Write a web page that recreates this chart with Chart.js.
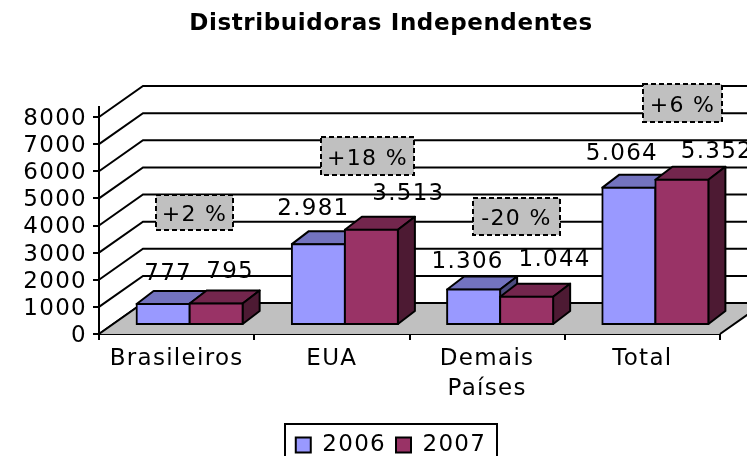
<!DOCTYPE html>
<html><head><meta charset="utf-8">
<style>html,body{margin:0;padding:0;background:#fff}canvas{display:block}</style>
<script src="https://cdn.jsdelivr.net/npm/chart.js@4"></script>
</head><body><canvas id="c" width="747" height="456"></canvas>
<script>
const categories = ['Brasileiros', 'EUA', ['Demais', 'Países'], 'Total'];
const values2006 = [777, 2981, 1306, 5064];
const values2007 = [795, 3513, 1044, 5352];
const changeLabels = ['+2 %', '+18 %', '-20 %', '+6 %'];
const yTicks = { min: 0, max: 8000, step: 1000 };

const FONT = 'DejaVu Sans, Verdana, sans-serif';
const LINE = 2;
const SPACING = '1.3px';
const BACK = { x: 44, y: -31 };
const BAR_SHIFT = { x: 13, y: -9 };
const BAR_DEPTH = { x: 17, y: -13 };
const LABEL_OFFSETS = [
  [[5, -30], [14, -31]],
  [[-5, -35], [37, -36]],
  [[-6, -28], [28, -37]],
  [[-7, -34], [35, -28]]
];
const NOTE_BOXES = [
  [156, 195, 77, 35],
  [321, 137, 93, 38],
  [473, 198, 87, 37],
  [643, 84, 79, 38]
];
const fmt = v => String(v).replace(/\B(?=(\d{3})+$)/g, '.');

function shade(hex, k) {
  const n = parseInt(hex.slice(1), 16);
  return 'rgb(' + [n >> 16 & 255, n >> 8 & 255, n & 255].map(c => Math.round(c * k)).join(',') + ')';
}

const canvas = document.getElementById('c');

const threeD = {
  id: 'threeD',
  beforeLayout(chart) { chart.ctx.letterSpacing = SPACING; },
  beforeDraw(chart) { chart.ctx.letterSpacing = SPACING; },
  afterLayout(chart) {
    const t = chart.titleBlock; t.left += 31; t.right += 31;
    const drawTitle = t.draw;
    t.draw = function () {
      chart.ctx.letterSpacing = '0.6px';
      drawTitle.apply(this, arguments);
      chart.ctx.letterSpacing = SPACING;
    };
    const L = chart.legend;
    L.left = 41; L.right = 741; L.top = 423.5; L.bottom = 456;
  },
  beforeDatasetsDraw(chart) {
    const { ctx, scales: { y }, chartArea: a } = chart;
    ctx.save();
    ctx.strokeStyle = '#000'; ctx.lineWidth = LINE;
    y.ticks.forEach(t => {
      const py = y.getPixelForValue(t.value);
      ctx.beginPath();
      ctx.moveTo(a.left, py);
      ctx.lineTo(a.left + BACK.x, py + BACK.y);
      ctx.lineTo(747, py + BACK.y);
      ctx.stroke();
    });
    const py0 = y.getPixelForValue(0);
    ctx.beginPath();
    ctx.moveTo(a.left, py0); ctx.lineTo(a.right, py0);
    ctx.lineTo(a.right + BACK.x, py0 + BACK.y); ctx.lineTo(a.left + BACK.x, py0 + BACK.y);
    ctx.closePath();
    ctx.fillStyle = '#C0C0C0'; ctx.fill();
    ctx.beginPath();
    ctx.moveTo(a.left, py0); ctx.lineTo(a.left + BACK.x, py0 + BACK.y); ctx.lineTo(747, py0 + BACK.y);
    ctx.moveTo(a.right, py0); ctx.lineTo(a.right + BACK.x, py0 + BACK.y);
    ctx.stroke();
    ctx.beginPath();
    ctx.moveTo(a.left, a.top); ctx.lineTo(a.left, a.top - 11);
    ctx.stroke();
    ctx.restore();
  },
  // native per-dataset drawing runs right-to-left; the 3D overlap needs left-to-right
  beforeDatasetDraw() { return false; },
  afterDatasetsDraw(chart) {
    const { ctx: c, data } = chart;
    data.datasets.forEach((ds, di) => {
      const meta = chart.getDatasetMeta(di);
      c.save();
      c.translate(BAR_SHIFT.x, BAR_SHIFT.y);
      c.strokeStyle = '#000'; c.lineWidth = LINE; c.lineJoin = 'round';
      meta.data.forEach(bar => {
        const l = bar.x - bar.width / 2, r = bar.x + bar.width / 2, t = bar.y, b = bar.base;
        const dx = BAR_DEPTH.x, dy = BAR_DEPTH.y;
        c.beginPath();
        c.moveTo(l, t); c.lineTo(l + dx, t + dy); c.lineTo(r + dx, t + dy); c.lineTo(r, t); c.closePath();
        c.fillStyle = shade(ds.backgroundColor, 0.75); c.fill(); c.stroke();
        c.beginPath();
        c.moveTo(r, t); c.lineTo(r + dx, t + dy); c.lineTo(r + dx, b + dy); c.lineTo(r, b); c.closePath();
        c.fillStyle = shade(ds.backgroundColor, 0.5); c.fill(); c.stroke();
      });
      meta.controller.draw();
      c.restore();
    });
    c.save();
    c.font = '23px ' + FONT; c.fillStyle = '#000';
    c.textAlign = 'center'; c.textBaseline = 'middle';
    data.datasets.forEach((ds, di) => {
      const meta = chart.getDatasetMeta(di);
      ds.data.forEach((v, i) => {
        const bar = meta.data[i], off = LABEL_OFFSETS[i][di];
        c.fillText(fmt(v), bar.x + BAR_SHIFT.x + off[0], bar.y + BAR_SHIFT.y + off[1]);
      });
    });
    changeLabels.forEach((txt, i) => {
      const [x, y, w, h] = NOTE_BOXES[i];
      c.fillStyle = '#C0C0C0'; c.fillRect(x, y, w, h);
      c.strokeStyle = '#000'; c.lineWidth = LINE; c.setLineDash([5, 3]);
      c.strokeRect(x, y, w, h); c.setLineDash([]);
      c.fillStyle = '#000'; c.font = '22px ' + FONT;
      c.fillText(txt, x + w / 2, y + h / 2 + 3);
    });
    c.strokeStyle = '#000'; c.lineWidth = LINE;
    c.strokeRect(285, 424, 212, 33);
    c.restore();
  }
};

const barStyle = { borderColor: '#000', borderWidth: LINE, borderSkipped: false, inflateAmount: 1, clip: false };

new Chart(canvas, {
  type: 'bar',
  data: {
    labels: categories,
    datasets: [
      { label: '2006', data: values2006, backgroundColor: '#9999FF', ...barStyle },
      { label: '2007', data: values2007, backgroundColor: '#993366', ...barStyle }
    ]
  },
  plugins: [threeD],
  options: {
    responsive: false, animation: false, devicePixelRatio: 1,
    events: [],
    layout: { padding: { left: 0, right: 27, top: 0, bottom: 0 } },
    datasets: { bar: { categoryPercentage: 0.683, barPercentage: 1 } },
    plugins: {
      tooltip: { enabled: false },
      title: { display: true, text: 'Distribuidoras Independentes', color: '#000',
        font: { family: FONT, size: 23, weight: 'bold', lineHeight: 1 }, padding: { top: 13, bottom: 81 } },
      legend: { display: true, position: 'bottom', align: 'center',
        labels: { color: '#000', font: { family: FONT, size: 23 }, boxWidth: 15, boxHeight: 15, padding: 10,
          generateLabels: chart => chart.data.datasets.map((d, i) => ({
            text: d.label, fillStyle: d.backgroundColor, strokeStyle: '#000', lineWidth: LINE, datasetIndex: i })) } }
    },
    scales: {
      x: {
        afterFit: s => { s.height = 79; },
        grid: { display: true, drawOnChartArea: false, drawTicks: true, tickLength: 6, color: '#000', lineWidth: LINE, offset: true },
        border: { color: '#000', width: LINE },
        ticks: { color: '#000', font: { family: FONT, size: 23, lineHeight: 1.3 }, maxRotation: 0, autoSkip: false, padding: 4 }
      },
      y: {
        min: yTicks.min, max: yTicks.max,
        afterFit: s => { s.width = 99; },
        grid: { display: true, drawOnChartArea: false, drawTicks: true, tickLength: 6, color: '#000', lineWidth: LINE },
        border: { color: '#000', width: LINE },
        ticks: { color: '#000', font: { family: FONT, size: 23 }, stepSize: yTicks.step, autoSkip: false, padding: 6, labelOffset: 2,
          callback: v => String(v) }
      }
    }
  }
});
</script></body></html>
